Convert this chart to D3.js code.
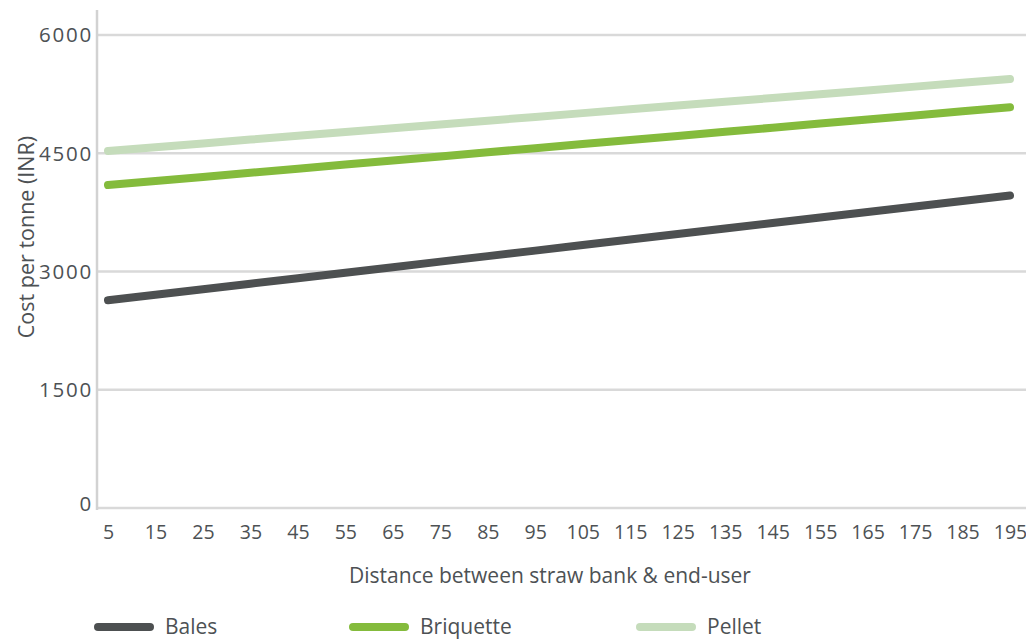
<!DOCTYPE html>
<html>
<head>
<meta charset="utf-8">
<script src="https://cdn.jsdelivr.net/npm/d3@7"></script>
<style>
  html, body { margin: 0; padding: 0; background: #fff; }
  svg { display: block; }
  text { font-family: "Open Sans", Lato, sans-serif; fill: #4d5154; }
</style>
</head>
<body>
<svg id="chart" width="1026" height="641"></svg>
<script>
// Distance between straw bank and end-user (km)
const distances = [5, 15, 25, 35, 45, 55, 65, 75, 85, 95, 105, 115, 125, 135, 145, 155, 165, 175, 185, 195];

// Cost per tonne (INR) for each product form
const bales = [2635, 2705, 2775, 2845, 2915, 2985, 3055, 3125, 3195, 3265, 3335, 3405, 3475, 3545, 3615, 3685, 3755, 3825, 3895, 3965];
const briquette = [4096, 4148, 4200, 4252, 4304, 4356, 4408, 4460, 4512, 4564, 4616, 4668, 4720, 4772, 4824, 4876, 4928, 4980, 5032, 5084];
const pellet = [4529, 4577, 4625, 4673, 4721, 4769, 4817, 4865, 4913, 4961, 5009, 5057, 5105, 5153, 5201, 5249, 5297, 5345, 5393, 5441];

const yTicks = [0, 1500, 3000, 4500, 6000];

const seriesNames = ["Bales", "Briquette", "Pellet"];
const seriesValues = [bales, briquette, pellet];
const seriesColors = ["#4d5051", "#84bb3c", "#c5dcbb"];

const svg = d3.select("#chart");

const x = d3.scalePoint().domain(distances).range([108, 1010]);
const y = d3.scaleLinear().domain([0, 6000]).range([508, 35]);

// Horizontal gridlines (including the baseline)
svg.append("g")
  .selectAll("line")
  .data(yTicks)
  .join("line")
  .attr("x1", 97)
  .attr("x2", 1026)
  .attr("y1", d => y(d))
  .attr("y2", d => y(d))
  .attr("stroke", "#d9d9d9")
  .attr("stroke-width", 2.5);

// Vertical axis line
svg.append("line")
  .attr("x1", 97).attr("x2", 97)
  .attr("y1", 10).attr("y2", 510)
  .attr("stroke", "#d2d2d2")
  .attr("stroke-width", 2.5);

// Y axis labels
const yAxis = d3.axisLeft(y).tickValues(yTicks).tickSize(0).tickPadding(4).tickFormat(d3.format("d"));
const gy = svg.append("g").attr("transform", "translate(93,0)").call(yAxis);
gy.select(".domain").remove();
gy.selectAll("text")
  .attr("x", 0)
  .attr("dy", "0.34em")
  .style("font-family", "'Open Sans', sans-serif")
  .style("font-size", "20.5px")
  .style("letter-spacing", "1.8px")
  .attr("fill", "#4d5154");
gy.selectAll("text").filter(d => d === 0).attr("dy", "0.1em");

// X axis labels
const xAxis = d3.axisBottom(x).tickSize(0).tickPadding(0);
const gx = svg.append("g").attr("transform", "translate(0,525)").call(xAxis);
gx.select(".domain").remove();
gx.selectAll("text")
  .attr("dy", "0.71em")
  .attr("y", 0)
  .style("font-family", "'Open Sans', sans-serif")
  .style("font-size", "19.5px")
  .attr("fill", "#4d5154");

// Axis titles
svg.append("text")
  .attr("transform", "translate(34,237) rotate(-90)")
  .attr("text-anchor", "middle")
  .style("font-size", "21.5px")
  .text("Cost per tonne (INR)");

svg.append("text")
  .attr("x", 550)
  .attr("y", 583)
  .attr("text-anchor", "middle")
  .style("font-size", "21px")
  .text("Distance between straw bank & end-user");

// Series lines
const line = d3.line()
  .x((d, i) => x(distances[i]))
  .y(d => y(d));

svg.append("g")
  .selectAll("path")
  .data(seriesValues)
  .join("path")
  .attr("d", d => line(d))
  .attr("fill", "none")
  .attr("stroke", (d, i) => seriesColors[i])
  .attr("stroke-width", 8)
  .attr("stroke-linecap", "round");

// Legend
const legendX = [98, 353, 640];
const legend = svg.append("g")
  .selectAll("g")
  .data(seriesNames)
  .join("g")
  .attr("transform", (d, i) => `translate(${legendX[i]},627)`);

legend.append("line")
  .attr("x1", 0).attr("x2", 52)
  .attr("y1", 0).attr("y2", 0)
  .attr("stroke", (d, i) => seriesColors[i])
  .attr("stroke-width", 8)
  .attr("stroke-linecap", "round");

legend.append("text")
  .attr("x", 67)
  .attr("dy", "0.33em")
  .style("font-size", "21px")
  .text(d => d);
</script>
</body>
</html>
